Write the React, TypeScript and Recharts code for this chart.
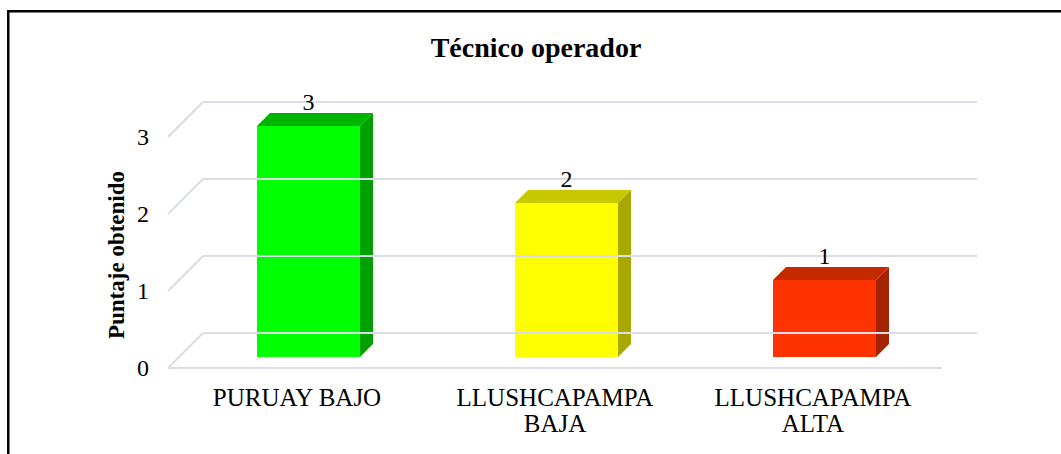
import { BarChart, Bar, XAxis, YAxis, ReferenceLine, LabelList } from 'recharts';

const categories = ['PURUAY BAJO', 'LLUSHCAPAMPA BAJA', 'LLUSHCAPAMPA ALTA'];
const tickLines = [['PURUAY BAJO'], ['LLUSHCAPAMPA', 'BAJA'], ['LLUSHCAPAMPA', 'ALTA']];
const puntaje = [3, 2, 1];
const yTicks = [0, 1, 2, 3];

const data = categories.map((name, i) => ({ name, value: puntaje[i] }));

const FONT = '"Liberation Serif", "Times New Roman", serif';
const GRID = '#d9dde6';

// front / top / side shades for each bar
const PALETTE = [
  { front: '#00ff00', top: '#00b400', side: '#00a000' },
  { front: '#ffff00', top: '#c8c800', side: '#a8a800' },
  { front: '#ff3300', top: '#c42a00', side: '#a52300' },
];

// oblique depth offsets (bar plane is the chart plane)
const DEPTH = 13;
const BACK = 24;
const FRONT = 11;

const Box3D = (props: any) => {
  const { x, y, width, height, index } = props;
  const c = PALETTE[index] || PALETTE[0];
  const d = DEPTH;
  return (
    <g>
      <polygon
        points={`${x},${y} ${x + d},${y - d} ${x + width + d},${y - d} ${x + width},${y}`}
        fill={c.top}
      />
      <polygon
        points={`${x + width},${y} ${x + width + d},${y - d} ${x + width + d},${y + height - d} ${x + width},${y + height}`}
        fill={c.side}
      />
      <rect x={x} y={y} width={width} height={height} fill={c.front} />
    </g>
  );
};

const gridShape = (v: number) => (props: any) => {
  const { x1, x2, y1 } = props;
  return (
    <g>
      <line x1={x1 + BACK} y1={y1 - BACK} x2={x2 + BACK} y2={y1 - BACK} stroke={GRID} strokeWidth={2} />
      <line x1={x1 + BACK} y1={y1 - BACK} x2={x1 - FRONT} y2={y1 + FRONT} stroke={GRID} strokeWidth={2} />
      {v === 0 && (
        <line x1={x1 - FRONT} y1={y1 + FRONT} x2={x2 - FRONT} y2={y1 + FRONT} stroke={GRID} strokeWidth={2} />
      )}
    </g>
  );
};

const YTick = (props: any) => {
  const { y, payload } = props;
  return (
    <text x={149} y={y + FRONT} textAnchor="end" dominantBaseline="central" fontFamily={FONT} fontSize={24} fill="#000">
      {payload.value}
    </text>
  );
};

const XTick = (props: any) => {
  const { x, payload, index } = props;
  const lines = tickLines[index] || [payload.value];
  return (
    <text textAnchor="middle" fontFamily={FONT} fontSize={25} fill="#000">
      {lines.map((ln: string, i: number) => (
        <tspan key={i} x={x - FRONT} y={406 + i * 26}>
          {ln}
        </tspan>
      ))}
    </text>
  );
};

const ValueLabel = (props: any) => {
  const { x, y, width, value } = props;
  return (
    <text x={x + width / 2} y={y - DEPTH - 3} textAnchor="middle" fontFamily={FONT} fontSize={24} fill="#000">
      {value}
    </text>
  );
};

export default function App() {
  return (
    <div style={{ position: 'absolute', left: 0, top: 0, width: 1061, height: 454, background: '#fff', overflow: 'hidden' }}>
      <BarChart
        width={1061}
        height={454}
        data={data}
        margin={{ top: 126, right: 108, bottom: 37, left: 119 }}
        barSize={103}
      >
        {yTicks.map((v) => (
          <ReferenceLine key={v} y={v} shape={gridShape(v)} />
        ))}
        <XAxis dataKey="name" height={60} axisLine={false} tickLine={false} tick={<XTick />} interval={0} />
        <YAxis
          width={60}
          domain={[0, 3]}
          ticks={yTicks}
          axisLine={false}
          tickLine={false}
          tick={<YTick />}
        />
        <Bar dataKey="value" shape={<Box3D />} isAnimationActive={false}>
          <LabelList dataKey="value" content={<ValueLabel />} />
        </Bar>
      </BarChart>
      <svg width={1061} height={454} style={{ position: 'absolute', left: 0, top: 0, pointerEvents: 'none' }}>
        <rect x={8.25} y={11.25} width={1200} height={600} fill="none" stroke="#000" strokeWidth={2.5} />
        <text x={536} y={57} textAnchor="middle" fontFamily={FONT} fontWeight="bold" fontSize={28} fill="#000">
          Técnico operador
        </text>
        <text
          x={0}
          y={0}
          transform="translate(124 255) rotate(-90)"
          textAnchor="middle"
          fontFamily={FONT}
          fontWeight="bold"
          fontSize={23}
          fill="#000"
        >
          Puntaje obtenido
        </text>
      </svg>
    </div>
  );
}
